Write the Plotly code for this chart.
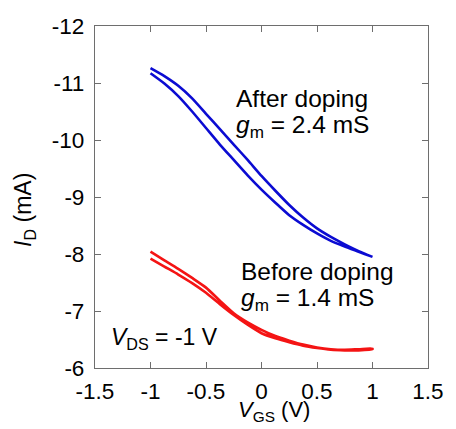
import plotly.graph_objects as go

# Gate sweep (V): forward -1 -> 1 then reverse 1 -> -1
vgs_fwd = [-1.0, -0.875, -0.75, -0.625, -0.5, -0.375, -0.25, -0.125, 0.0,
           0.125, 0.25, 0.375, 0.5, 0.625, 0.75, 0.875, 1.0]
vgs_rev = vgs_fwd[::-1]

# Drain current (mA), after doping
id_after_fwd = [-11.17, -10.99, -10.77, -10.50, -10.21, -9.92, -9.65, -9.38, -9.13,
                -8.90, -8.68, -8.51, -8.36, -8.23, -8.13, -8.04, -7.95]
id_after_rev = [-7.95, -8.05, -8.17, -8.30, -8.45, -8.64, -8.86, -9.11, -9.37,
                -9.65, -9.92, -10.19, -10.46, -10.73, -10.95, -11.12, -11.26]

# Drain current (mA), before doping
id_before_fwd = [-7.92, -7.78, -7.64, -7.49, -7.32, -7.12, -6.93, -6.76, -6.61,
                 -6.52, -6.45, -6.39, -6.35, -6.32, -6.31, -6.31, -6.33]
id_before_rev = [-6.34, -6.33, -6.32, -6.33, -6.36, -6.41, -6.48, -6.56, -6.67,
                 -6.80, -6.96, -7.18, -7.41, -7.58, -7.74, -7.89, -8.04]

x_tick_vals = [-1.5, -1.0, -0.5, 0.0, 0.5, 1.0, 1.5]
x_tick_text = ["-1.5", "-1", "-0.5", "0", "0.5", "1", "1.5"]
y_tick_vals = [-12, -11, -10, -9, -8, -7, -6]
y_tick_text = ["-12", "-11", "-10", "-9", "-8", "-7", "-6"]

FONT = "Liberation Sans, Arial, sans-serif"
AXIS_GRAY = "#6e6e6e"

fig = go.Figure()
fig.add_trace(go.Scatter(
    x=vgs_fwd + vgs_rev, y=id_after_fwd + id_after_rev,
    mode="lines", line=dict(color="#0b0bd2", width=2.6, shape="spline", smoothing=0.6),
    showlegend=False, hoverinfo="skip"))
fig.add_trace(go.Scatter(
    x=vgs_fwd + vgs_rev, y=id_before_fwd + id_before_rev,
    mode="lines", line=dict(color="#f41414", width=2.6, shape="spline", smoothing=0.6),
    showlegend=False, hoverinfo="skip"))

axis_common = dict(
    showline=True, linecolor=AXIS_GRAY, linewidth=1.2, mirror="ticks",
    ticks="inside", ticklen=6, tickwidth=1.2, tickcolor=AXIS_GRAY,
    showgrid=False, zeroline=False,
    tickfont=dict(family=FONT, size=22.5, color="black"),
)
fig.update_xaxes(range=[-1.5, 1.5], tickvals=x_tick_vals, ticktext=x_tick_text,
                 ticklabelstandoff=3, **axis_common)
fig.update_yaxes(range=[-6, -12], tickvals=y_tick_vals, ticktext=y_tick_text,
                 ticklabelstandoff=5, **axis_common)

L, R, T, B = 95, 19, 26, 61
PW, PH = 456 - L - R, 429 - T - B


def px(xp):
    return (xp - L) / PW


def py(yp):
    return (429 - B - yp) / PH


def label(text, xp, yp, size=24, angle=0, xanchor="left"):
    fig.add_annotation(
        text=text, x=px(xp), y=py(yp), xref="paper", yref="paper",
        xanchor=xanchor, yanchor="middle", showarrow=False, textangle=angle,
        font=dict(family=FONT, size=size, color="black"))


label("After doping", 238, 98, size=24.5)
label("<i>g</i><sub>m</sub> = 2.4 mS", 238, 126, size=24.5)
label("Before doping", 243, 271, size=24.5)
label("<i>g</i><sub>m</sub> = 1.4 mS", 243, 299, size=24.5)
label("<i>V</i><sub>DS</sub> = -1 V", 109, 338, size=23)
label("<i>V</i><sub>GS</sub> (V)", 279, 411, size=22, xanchor="center")
label("<i>I</i><sub>D</sub> (mA)", 22, 210, size=23, angle=-90, xanchor="center")

fig.update_layout(
    width=456, height=429,
    margin=dict(l=L, r=R, t=T, b=B),
    paper_bgcolor="white", plot_bgcolor="white",
    font=dict(family=FONT),
)

fig.write_html("out.html")
